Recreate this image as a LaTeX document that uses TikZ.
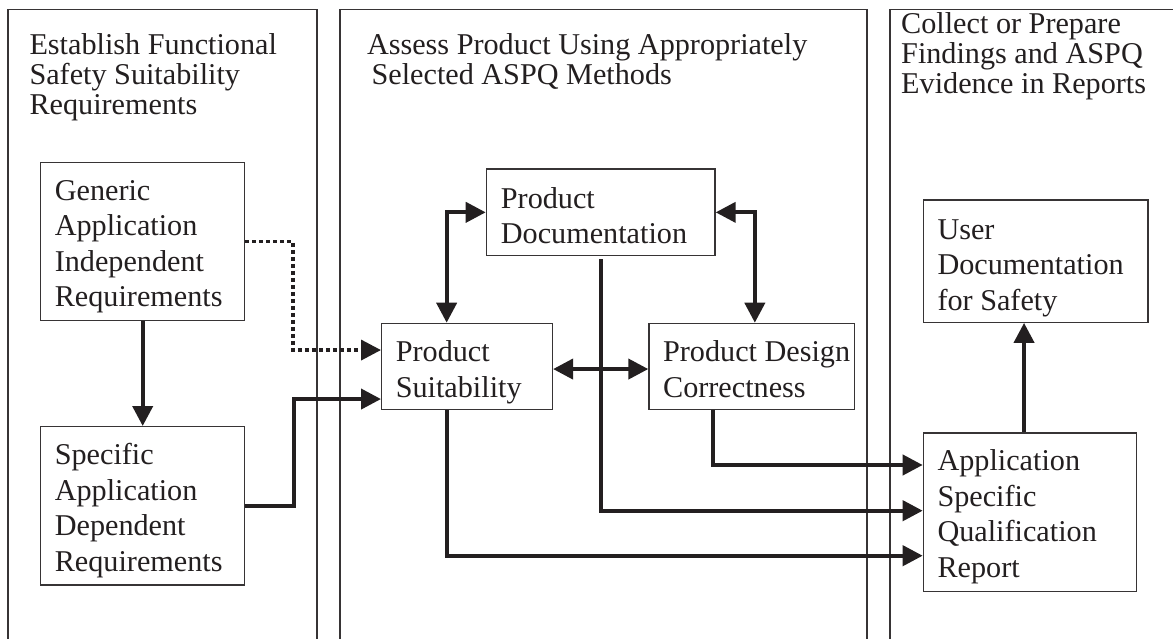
\documentclass[tikz,border=0pt]{standalone}
\usepackage{fontspec}
\setmainfont{Liberation Serif}
\usetikzlibrary{arrows.meta,calc}
\definecolor{ink}{RGB}{35,31,32}
\definecolor{rule}{RGB}{55,52,53}
\begin{document}
\begin{tikzpicture}[x=1pt,y=-1pt,
  >={Triangle[length=20pt,width=20pt]},
  panel/.style={draw=rule,line width=1.3pt},
  box/.style={draw=rule,line width=1.4pt,inner sep=0pt,anchor=north west},
  boxtext/.style={anchor=base west,inner sep=0pt,align=left,text=ink,
    font=\fontsize{30.2}{35.5}\selectfont},
  title/.style={anchor=base west,inner sep=0pt,align=left,text=ink,
    font=\fontsize{30.2}{30}\selectfont},
  conn/.style={draw=ink,line width=4pt},
  dotconn/.style={draw=ink,line width=3.6pt,dash pattern=on 4pt off 3pt}]

\fill[white] (0,0) rectangle (1173,639);
\useasboundingbox (0,0) rectangle (1173,639);

% three process panels (open at the bottom)
\draw[panel] (8,639) -- (8,9.5) -- (317,9.5) -- (317,639);
\draw[panel] (340,639) -- (340,9.5) -- (867,9.5) -- (867,639);
\draw[panel] (890,639) -- (890,9.3) -- (1173,9.3);

% panel headings (base anchor sits on the last line)
\node[title] (t1) at (29.3,114.3) {Establish Functional\\Safety Suitability\\Requirements};
\node[title] (t2) at (366.8,84.3) {Assess Product Using Appropriately\\\hspace*{4.6pt}Selected ASPQ Methods};
\node[title] (t3) at (901,93.3) {Collect or Prepare\\Findings and ASPQ\\Evidence in Reports};

% boxes
\node[box,minimum width=204pt,minimum height=158.3pt] (gen) at (40,161.7) {};
\node[box,minimum width=204pt,minimum height=158.3pt] (spec) at (40,426) {};
\node[box,minimum width=228.6pt,minimum height=86.7pt] (pd) at (485.7,168.3) {};
\node[box,minimum width=170.7pt,minimum height=86.3pt] (ps) at (381,322.7) {};
\node[box,minimum width=205.7pt,minimum height=86.3pt] (pdc) at (648.3,322.7) {};
\node[box,minimum width=224.6pt,minimum height=122.2pt] (uds) at (922.7,199.3) {};
\node[box,minimum width=213.3pt,minimum height=158.4pt] (asqr) at (922.7,432.3) {};

% box labels (positioned by the baseline of their last line)
\node[boxtext] (gen-t) at ($(gen.north west)+(14.6,145)$) {Generic\\Application\\Independent\\Requirements};
\node[boxtext] (spec-t) at ($(spec.north west)+(14.6,145)$) {Specific\\Application\\Dependent\\Requirements};
\node[boxtext] (pd-t) at ($(pd.north west)+(15,75.5)$) {Product\\Documentation};
\node[boxtext] (ps-t) at ($(ps.north west)+(14.6,74.5)$) {Product\\Suitability};
\node[boxtext] (pdc-t) at ($(pdc.north west)+(14.6,74.5)$) {Product Design\\Correctness};
\node[boxtext] (uds-t) at ($(uds.north west)+(14.6,111)$) {User\\Documentation\\for Safety};
\node[boxtext] (asqr-t) at ($(asqr.north west)+(14.6,144.9)$) {Application\\Specific\\Qualification\\Report};

% connectors
\draw[conn,->] (gen.south) -- (spec.north);
\draw[dotconn,->] (gen.east) -- ++(47.7,0) |- ([yshift=16.5pt]ps.west);
\draw[conn,->] (spec.east) -- ++(48.3,0) |- ([yshift=-32.5pt]ps.west);
\draw[conn,<->] ([xshift=-20.4pt]ps.north) |- (pd.west);
\draw[conn,<->] (pd.east) -| ([xshift=3pt]pdc.north);
\draw[conn,<->] ([yshift=-2.5pt]ps.east) -- ([yshift=-2.5pt]pdc.west);
\draw[conn,->] ([yshift=-3pt]pd.south) |- ([yshift=1.5pt]asqr.west);
\draw[conn,->] ([xshift=-39pt]pdc.south) |- ([yshift=47.2pt]asqr.west);
\draw[conn,->] ([xshift=-20.4pt]ps.south) |- ([yshift=-43.5pt]asqr.west);
\draw[conn,->] ([xshift=-6pt]asqr.north) -- ([xshift=-6pt]asqr.north |- uds.south);
\end{tikzpicture}
\end{document}
